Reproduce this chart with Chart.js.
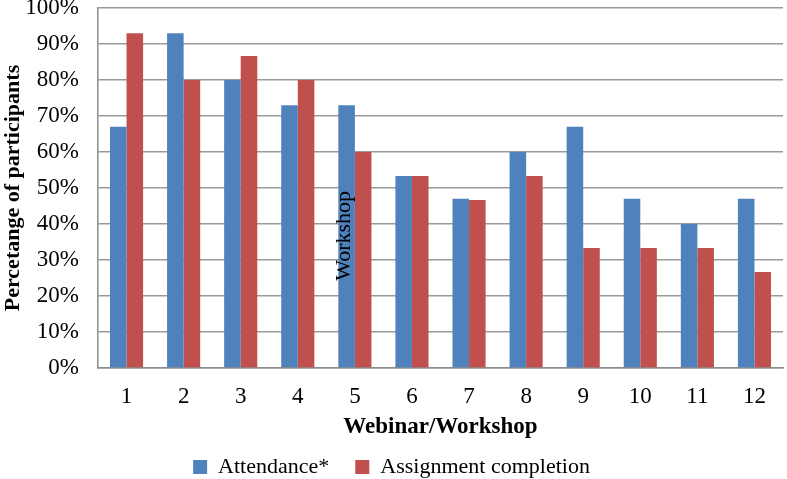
<!DOCTYPE html>
<html>
<head>
<meta charset="utf-8">
<script src="https://cdn.jsdelivr.net/npm/chart.js@4/dist/chart.umd.min.js"></script>
<style>
  html, body { margin: 0; padding: 0; background: #fff; }
  #wrap { width: 787px; height: 479px; }
</style>
</head>
<body>
<div id="wrap"><canvas id="chart" width="787" height="479"></canvas></div>
<script>
// --- data ---
const sessions = ["1", "2", "3", "4", "5", "6", "7", "8", "9", "10", "11", "12"];
const attendance = [67, 93, 80, 73, 73, 53.3, 47, 60, 67, 47, 40, 47];
const assignment = [93, 80, 86.7, 80, 60, 53.3, 46.7, 53.3, 33.3, 33.3, 33.3, 26.7];

const serif = "'Liberation Serif', 'Times New Roman', serif";

// stray rotated label sitting on bar 5
const strayLabel = {
    id: "strayLabel",
    afterDatasetsDraw(chart) {
        const bar = chart.getDatasetMeta(0).data[4];
        const y = chart.scales.y.getPixelForValue(36.7);
        const ctx = chart.ctx;
        ctx.save();
        ctx.translate(bar.x - 2, y);
        ctx.rotate(-Math.PI / 2);
        ctx.font = "22px " + serif;
        ctx.fillStyle = "#000";
        ctx.textAlign = "center";
        ctx.textBaseline = "middle";
        ctx.fillText("Workshop", 0, 0);
        ctx.restore();
    }
};

new Chart(document.getElementById("chart").getContext("2d"), {
    type: "bar",
    data: {
        labels: sessions,
        datasets: [
            { label: "Attendance*", data: attendance, backgroundColor: "#4F81BD" },
            { label: "Assignment completion", data: assignment, backgroundColor: "#C0504D" },
        ],
    },
    options: {
        responsive: false,
        animation: false,
        layout: { padding: { top: 8, right: 4, left: 0, bottom: -9 } },
        datasets: { bar: { categoryPercentage: 0.58, barPercentage: 1.0 } },
        scales: {
            x: {
                grid: { display: false, drawTicks: false },
                border: { color: "#8c8c8c", width: 1.5 },
                ticks: { color: "#000", font: { family: serif, size: 23 }, padding: 15 },
                title: {
                    display: true, text: "Webinar/Workshop", color: "#000",
                    font: { family: serif, size: 23, weight: "bold" }, padding: { top: 4, bottom: -11 },
                },
                afterFit: (scale) => {
                    scale.height = 62;
                    scale.paddingLeft = 0;
                    scale.paddingRight = 0;
                },
            },
            y: {
                min: 0, max: 100,
                grid: { color: "#9a9a9a", lineWidth: 1.5, drawTicks: false },
                border: { color: "#8c8c8c", width: 1.5 },
                ticks: {
                    stepSize: 10, color: "#000", padding: 19,
                    font: { family: serif, size: 23 },
                    callback: v => v + "%",
                },
                title: {
                    display: true, text: "Percetange of participants", color: "#000",
                    font: { family: serif, size: 22, weight: "bold" }, padding: { top: 0, bottom: 0 },
                },
                afterFit: (scale) => {
                    scale.width = 98;
                    scale.paddingTop = 0;
                    scale.paddingBottom = 0;
                },
            },
        },
        plugins: {
            legend: {
                position: "bottom",
                labels: {
                    color: "#000", boxWidth: 14, boxHeight: 14, padding: 26,
                    font: { family: serif, size: 22 },
                },
            },
            tooltip: { enabled: false },
        },
    },
    plugins: [strayLabel],
});
</script>
</body>
</html>
